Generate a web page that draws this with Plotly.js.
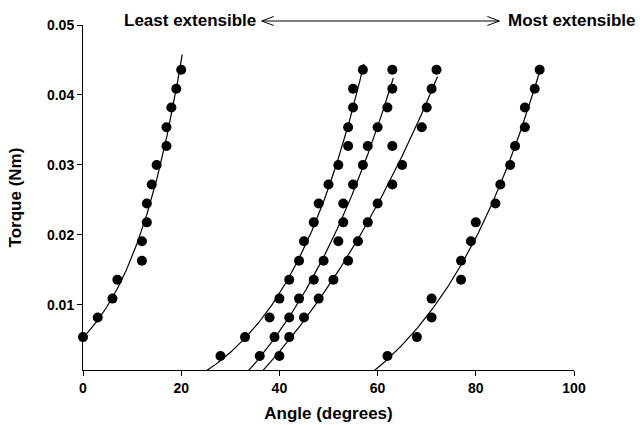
<!DOCTYPE html>
<html>
<head>
<meta charset="utf-8">
<script src="https://cdn.plot.ly/plotly-3.0.1.min.js"></script>
<style>html,body{margin:0;padding:0;background:#fff;}#chart{width:640px;height:425px;}</style>
</head>
<body>
<div id="chart"></div>
<script>
// Torque levels (Nm), shared by all curves
const torqueLevels = [0.0027, 0.0054, 0.0082, 0.0109, 0.0136, 0.0163, 0.0191, 0.0218,
                      0.0245, 0.0272, 0.0300, 0.0327, 0.0354, 0.0382, 0.0409, 0.0436];
// Angle (degrees) at each torque level, one array per curve (null = no point)
const angles1 = [null, 0, 3, 6, 7, 12, 12, 13, 13, 14, 15, 17, 17, 18, 19, 20];
const angles2 = [28, 33, 38, 40, 42, 44, 45, 47, 48, 50, 52, 54, 54, 55, 55, 57];
const angles3 = [36, 39, 42, 44, 47, 49, 52, 53, 53, 55, 57, 58, 60, 62, 63, 63];
const angles4 = [40, 42, 45, 48, 51, 54, 56, 58, 60, 63, 65, 63, 69, 70, 71, 72];
const angles5 = [62, 68, 71, 71, 77, 77, 79, 80, 84, 85, 87, 88, 90, 90, 92, 93];
const curves = [angles1, angles2, angles3, angles4, angles5];

const xTicks = [0, 20, 40, 60, 80, 100];
const yTicks = [0.01, 0.02, 0.03, 0.04, 0.05];
const labelLeft = 'Least extensible';
const labelRight = 'Most extensible';
const xTitle = 'Angle (degrees)';
const yTitle = 'Torque (Nm)';

// least-squares fit T = a + b*exp(k*(angle - angle0)), k found by grid search
function expFit(xs, ys) {
  const x0 = Math.min.apply(null, xs), n = xs.length;
  let best = null;
  for (let k = 0.001; k < 0.4; k += 0.001) {
    let su = 0, suu = 0, sy = 0, suy = 0;
    for (let i = 0; i < n; i++) {
      const u = Math.exp(k * (xs[i] - x0));
      su += u; suu += u * u; sy += ys[i]; suy += u * ys[i];
    }
    const b = (n * suy - su * sy) / (n * suu - su * su);
    const a = (sy - b * su) / n;
    let sse = 0;
    for (let i = 0; i < n; i++) {
      const r = ys[i] - (a + b * Math.exp(k * (xs[i] - x0)));
      sse += r * r;
    }
    if (!best || sse < best.sse) best = {a: a, b: b, k: k, x0: x0, sse: sse};
  }
  return best;
}

const font = {family: 'Liberation Sans, Arial, sans-serif', color: '#000', weight: 'bold'};
const traces = [];
curves.forEach(function (ang) {
  const xs = [], ys = [];
  ang.forEach(function (a, i) { if (a !== null) { xs.push(a); ys.push(torqueLevels[i]); } });
  const f = expFit(xs, ys);
  const lo = Math.min.apply(null, xs) - 4, hi = Math.max.apply(null, xs) + 0.2;
  const fx = [], fy = [];
  for (let i = 0; i <= 200; i++) {
    const x = lo + (hi - lo) * i / 200;
    fx.push(x); fy.push(f.a + f.b * Math.exp(f.k * (x - f.x0)));
  }
  traces.push({x: fx, y: fy, mode: 'lines', type: 'scatter', line: {color: '#000', width: 1.2},
               hoverinfo: 'skip', showlegend: false});
  traces.push({x: xs, y: ys, mode: 'markers', type: 'scatter', cliponaxis: false,
               marker: {color: '#000', size: 10}, showlegend: false});
});

const layout = {
  width: 640, height: 425,
  margin: {l: 83, r: 66, t: 25, b: 55},
  paper_bgcolor: '#fff', plot_bgcolor: '#fff',
  showlegend: false,
  font: font,
  xaxis: {
    range: [0, 100], tickvals: xTicks, ticktext: xTicks.map(String),
    ticks: 'outside', ticklen: 5, tickwidth: 1, tickcolor: '#000',
    showline: true, linecolor: '#000', linewidth: 1, showgrid: false, zeroline: false,
    tickfont: Object.assign({}, font, {size: 14}),
    title: {text: xTitle, font: Object.assign({}, font, {size: 17}), standoff: 12}
  },
  yaxis: {
    range: [0.0007, 0.05], tickvals: yTicks, ticktext: yTicks.map(v => v.toFixed(2)),
    ticks: 'outside', ticklen: 5, tickwidth: 1, tickcolor: '#000',
    showline: true, linecolor: '#000', linewidth: 1, showgrid: false, zeroline: false,
    tickfont: Object.assign({}, font, {size: 14}),
    title: {text: yTitle, font: Object.assign({}, font, {size: 17}), standoff: 21}
  },
  annotations: [
    {xref: 'paper', yref: 'paper', x: 0.356, y: 1.0116, xanchor: 'right', yanchor: 'middle',
     text: labelLeft, showarrow: false, font: Object.assign({}, font, {size: 17})},
    {xref: 'paper', yref: 'paper', x: 0.8605, y: 1.0116, xanchor: 'left', yanchor: 'middle',
     text: labelRight, showarrow: false, font: Object.assign({}, font, {size: 17})}
  ],
  shapes: [
    {type: 'line', xref: 'paper', yref: 'paper', x0: 0.364, x1: 0.848, y0: 1.0116, y1: 1.0116,
     line: {color: '#000', width: 1}},
    {type: 'path', xref: 'paper', yref: 'paper', xsizemode: 'pixel', ysizemode: 'pixel',
     xanchor: 0.364, yanchor: 1.0116, path: 'M12,4.5 L0,0 L12,-4.5', line: {color: '#000', width: 1}},
    {type: 'path', xref: 'paper', yref: 'paper', xsizemode: 'pixel', ysizemode: 'pixel',
     xanchor: 0.848, yanchor: 1.0116, path: 'M-12,4.5 L0,0 L-12,-4.5', line: {color: '#000', width: 1}}
  ]
};

Plotly.newPlot('chart', traces, layout, {staticPlot: true, displayModeBar: false});
</script>
</body>
</html>
